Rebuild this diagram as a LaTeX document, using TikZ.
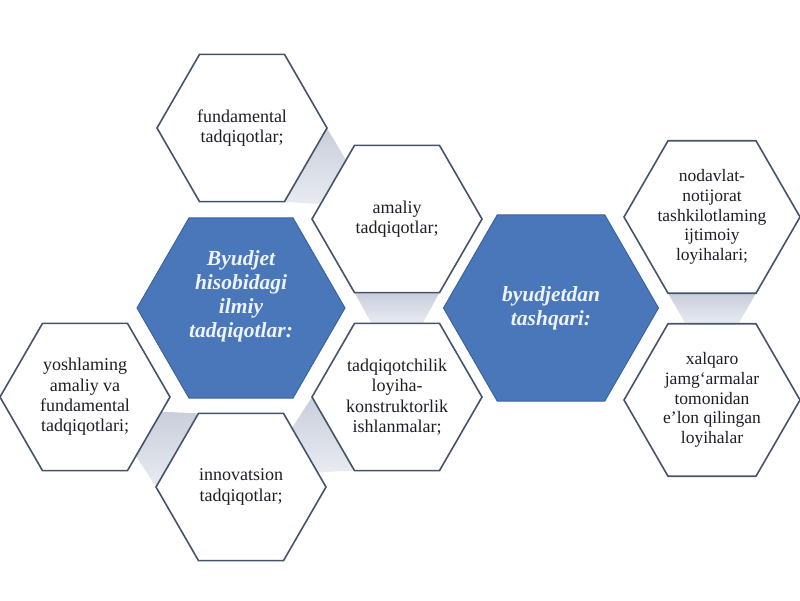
\documentclass[tikz,border=0pt]{standalone}
\usepackage{fontspec}
\setmainfont{Liberation Serif}
\usetikzlibrary{shapes.geometric,calc,backgrounds}
\definecolor{hexline}{HTML}{44546A}
\definecolor{bluefill}{HTML}{4A77B9}
\definecolor{blueline}{HTML}{3A64A0}
\definecolor{txtc}{HTML}{1E1E28}
\definecolor{bluetxt}{HTML}{EEF3FB}
\definecolor{bandc}{HTML}{C9CEDB}
\definecolor{bandl}{HTML}{E8EBF1}
\pgfdeclarelayer{bg}
\pgfsetlayers{bg,background,main}
\begin{document}
\begin{tikzpicture}[x=1pt,y=-1pt,
  hexbase/.style={regular polygon, regular polygon sides=6, inner sep=0pt, outer sep=0pt},
  whitehex/.style={hexbase, minimum size=170pt, draw=hexline, line width=1.6pt, fill=white},
  whitehexr/.style={whitehex, minimum size=176pt},
  bluehex/.style={hexbase, draw=blueline, line width=1pt, fill=bluefill},
  txt/.style={align=center, text=txtc, inner sep=0pt, font=\fontsize{18}{20.3}\selectfont},
  txtr/.style={txt, font=\fontsize{17.5}{19.6}\selectfont},
  btxt/.style={align=center, text=bluetxt, inner sep=0pt, font=\fontsize{21.5}{24}\selectfont\bfseries\itshape},
  band/.style={top color=bandc, bottom color=bandl}
]
\begin{pgfonlayer}{bg}
\fill[white] (0,0) rectangle (800,600);
\end{pgfonlayer}
\useasboundingbox (0,0) rectangle (800,600);

% hexagons
\node[whitehex] (fund) at (242,128) {};
\node[whitehex] (amal) at (397,219) {};
\node[whitehex] (yosh) at (85,397) {};
\node[whitehex] (innov) at (241,487) {};
\node[whitehex] (tadq) at (397,397) {};
\node[whitehexr] (nod) at (712,217) {};
\node[whitehexr] (xal) at (712,400) {};
\node[bluehex, minimum size=208pt] (bl) at (241,308) {};
\node[bluehex, minimum size=215pt] (br) at (551,308) {};

% texts
\node[txt] (fundt) at (fund) {fundamental\\tadqiqotlar;};
\node[txt] (amalt) at (amal) {amaliy\\tadqiqotlar;};
\node[txt] (yosht) at (yosh) {yoshlaming\\amaliy va\\fundamental\\tadqiqotlari;};
\node[txt] (innovt) at (innov) {innovatsion\\tadqiqotlar;};
\node[txt] (tadqt) at (tadq) {tadqiqotchilik\\loyiha-\\konstruktorlik\\ishlanmalar;};
\node[txtr] (nodt) at (nod) {nodavlat-\\notijorat\\tashkilotlaming\\ijtimoiy\\loyihalari;};
\node[txtr] (xalt) at (xal) {xalqaro\\jamg‘armalar\\tomonidan\\e’lon qilingan\\loyihalar};
\node[btxt] (blt) at ($(bl)+(0,-12)$) {Byudjet\\hisobidagi\\ilmiy\\tadqiqotlar:};
\node[btxt] (brt) at (br) {byudjetdan\\tashqari:};

% grey connecting bands
\begin{pgfonlayer}{background}
\path[band] (fund.0) -- ($(amal.120)!0.2!(amal.180)$) -- ($(amal.120)!0.8!(amal.180)$) -- (fund.-60) -- cycle;
\path[band] (amal.-120) -- (amal.-60) -- ($(tadq.60)!0.2!(tadq.120)$) -- ($(tadq.60)!0.8!(tadq.120)$) -- cycle;
\path[band] (nod.-120) -- (nod.-60) -- ($(xal.60)!0.2!(xal.120)$) -- ($(xal.60)!0.8!(xal.120)$) -- cycle;
\path[band] (innov.120) -- (innov.180) -- ($(yosh.-60)!0.2!(yosh.0)$) -- ($(yosh.-60)!0.8!(yosh.0)$) -- cycle;
\path[band] (tadq.180) -- (tadq.-120) -- ($(innov.0)!0.2!(innov.60)$) -- ($(innov.0)!0.8!(innov.60)$) -- cycle;
\end{pgfonlayer}
\end{tikzpicture}
\end{document}
